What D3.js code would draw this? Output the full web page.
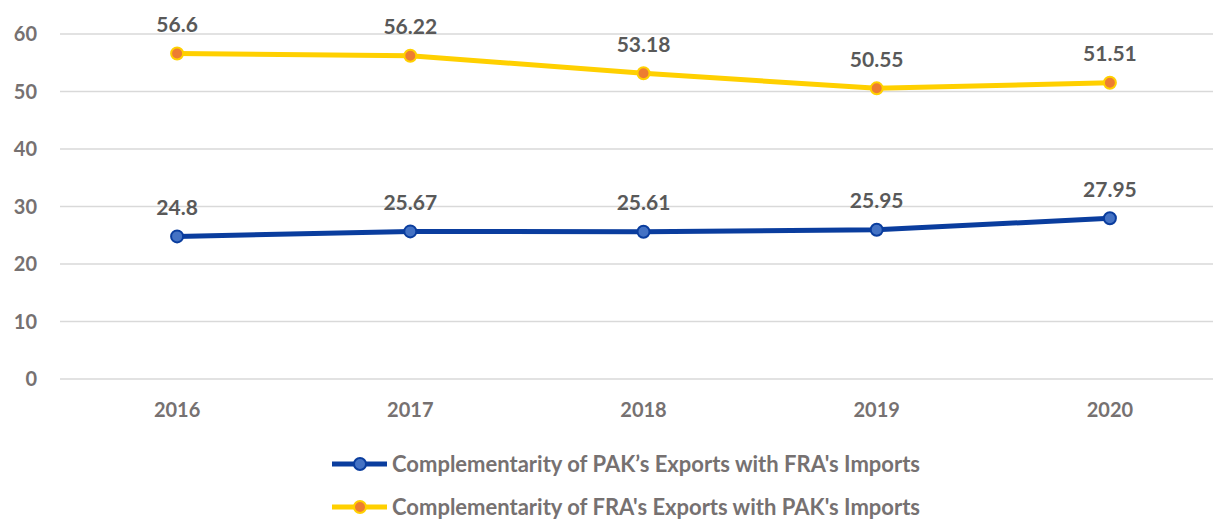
<!DOCTYPE html>
<html>
<head>
<meta charset="utf-8">
<script src="https://cdn.jsdelivr.net/npm/d3@7"></script>
<style>
  body { margin: 0; background: #fff; }
  svg { font-family: Lato, "Open Sans", sans-serif; font-weight: 700; }
</style>
</head>
<body>
<div id="chart"></div>
<script>
const years = ['2016', '2017', '2018', '2019', '2020'];
const pakExports = [24.8, 25.67, 25.61, 25.95, 27.95];
const fraExports = [56.6, 56.22, 53.18, 50.55, 51.51];
const yTicks = [0, 10, 20, 30, 40, 50, 60];
const seriesNames = [
    'Complementarity of PAK\u2019s Exports with FRA\'s Imports',
    'Complementarity of FRA\'s Exports with PAK\'s Imports'
];

const width = 1213, height = 520;
const svg = d3.select('#chart').append('svg').attr('width', width).attr('height', height);

const x = d3.scaleBand().domain(years).range([60.5, 1226.5]);
const y = d3.scaleLinear().domain([0, 60]).range([379, 34]);

// gridlines
svg.append('g').selectAll('line').data(yTicks).enter().append('line')
    .attr('x1', 60).attr('x2', width)
    .attr('y1', d => y(d)).attr('y2', d => y(d))
    .attr('stroke', '#d9d9d9').attr('stroke-width', 1.3);

// y labels
svg.append('g').selectAll('text').data(yTicks).enter().append('text')
    .attr('x', 37).attr('y', d => y(d)).attr('dy', '0.35em')
    .attr('text-anchor', 'end').attr('fill', '#767171').style('font-size', '20px')
    .text(d => d);

// x labels
svg.append('g').selectAll('text').data(years).enter().append('text')
    .attr('x', d => x(d) + x.bandwidth() / 2).attr('y', 410).attr('dy', '0.35em')
    .attr('text-anchor', 'middle').attr('fill', '#767171').style('font-size', '20px')
    .text(d => d);

const series = [
    { name: seriesNames[0], values: pakExports, line: '#0a3d9e', fill: '#4472c4', stroke: '#0a3d9e' },
    { name: seriesNames[1], values: fraExports, line: '#ffd000', fill: '#ed7d31', stroke: '#ffd000' }
];

const line = d3.line().x((d, i) => x(years[i]) + x.bandwidth() / 2).y(d => y(d));

series.forEach(s => {
    svg.append('path').datum(s.values)
        .attr('d', line).attr('fill', 'none')
        .attr('stroke', s.line).attr('stroke-width', 5).attr('stroke-linejoin', 'round');
    svg.append('g').selectAll('circle').data(s.values).enter().append('circle')
        .attr('cx', (d, i) => x(years[i]) + x.bandwidth() / 2).attr('cy', d => y(d))
        .attr('r', 6).attr('fill', s.fill).attr('stroke', s.stroke).attr('stroke-width', 2);
    svg.append('g').selectAll('text').data(s.values).enter().append('text')
        .attr('x', (d, i) => x(years[i]) + x.bandwidth() / 2).attr('y', d => y(d) - 29)
        .attr('dy', '0.35em').attr('text-anchor', 'middle')
        .attr('fill', '#595959').style('font-size', '21px')
        .text(d => d);
});

// legend
const legend = svg.append('g');
series.forEach((s, i) => {
    const ly = 464 + i * 43;
    legend.append('line').attr('x1', 332).attr('x2', 387).attr('y1', ly).attr('y2', ly)
        .attr('stroke', s.line).attr('stroke-width', 5);
    legend.append('circle').attr('cx', 360).attr('cy', ly).attr('r', 6)
        .attr('fill', s.fill).attr('stroke', s.stroke).attr('stroke-width', 2);
    legend.append('text').attr('x', 392).attr('y', ly).attr('dy', '0.35em')
        .attr('fill', '#767171').style('font-size', '22px').text(s.name);
});
</script>
</body>
</html>
